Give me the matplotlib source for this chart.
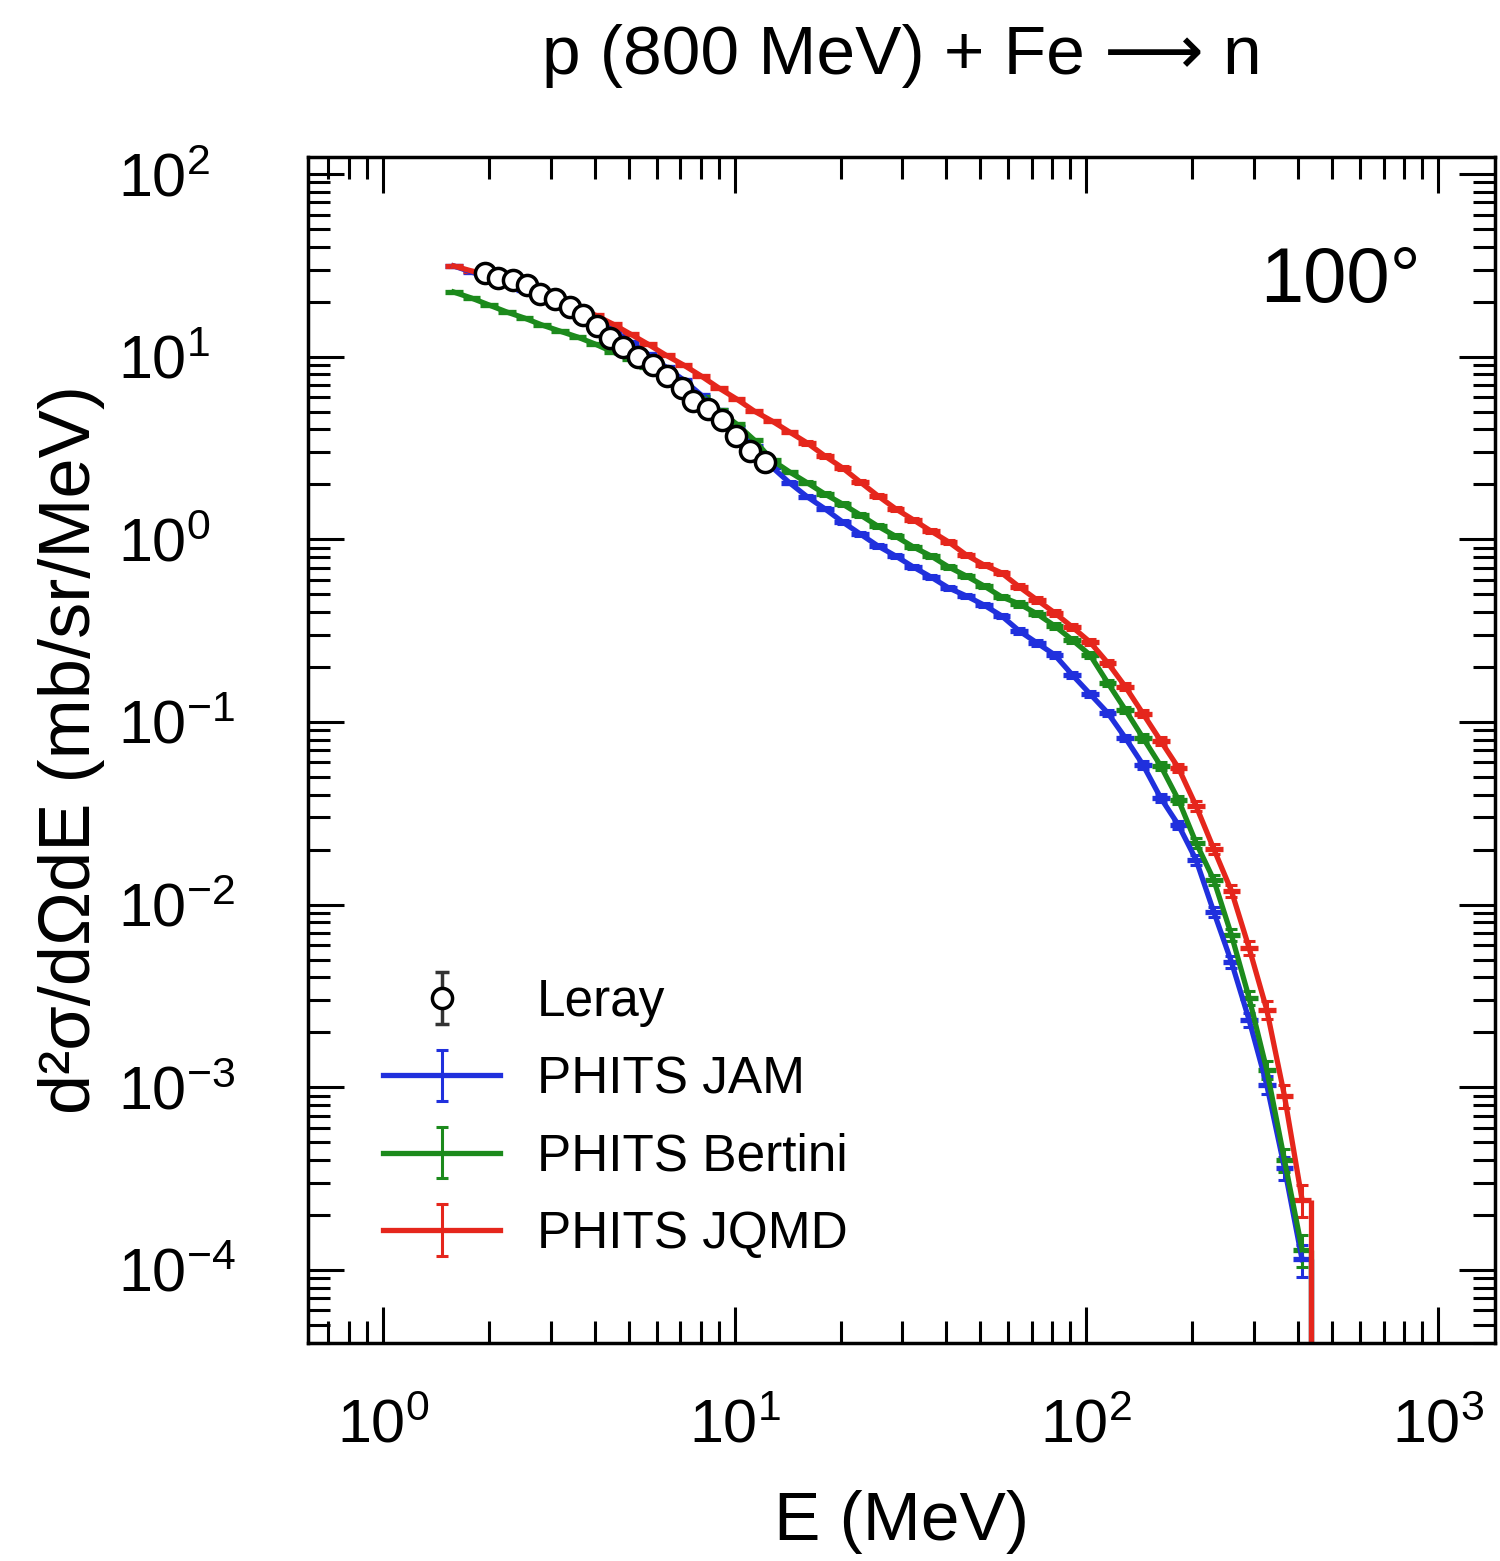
import numpy as np
import matplotlib
matplotlib.use("Agg")
import matplotlib.pyplot as plt
from matplotlib.ticker import LogLocator, NullFormatter

plt.rcParams['font.family'] = ['Liberation Sans', 'DejaVu Sans']
plt.rcParams['mathtext.fontset'] = 'custom'
plt.rcParams['mathtext.rm'] = 'Liberation Sans'
plt.rcParams['mathtext.it'] = 'Liberation Sans:italic'
plt.rcParams['mathtext.bf'] = 'Liberation Sans:bold'

# bin edges of the PHITS spectra (MeV)
edges = [1.500, 1.684, 1.891, 2.123, 2.384, 2.676, 3.004, 3.373, 3.787, 4.251,
         4.773, 5.358, 6.016, 6.753, 7.582, 8.511, 9.555, 10.73, 12.04, 13.52,
         15.18, 17.04, 19.13, 21.48, 24.11, 27.07, 30.39, 34.12, 38.30, 43.00,
         48.27, 54.19, 60.84, 68.30, 76.68, 86.08, 96.65, 108.5, 121.8, 136.8,
         153.5, 172.4, 193.5, 217.3, 243.9, 273.8, 307.4, 345.1, 387.4, 435.0]

# d2sigma/dOmega dE (mb/sr/MeV) per bin
jam = [31.4, 29.1, 26.97, 25.0, 23.2, 21.2, 19.4, 17.6, 15.7, 14.0,
       12.0, 10.3, 8.78, 7.46, 6.17, 5.11, 4.12, 3.24, 2.49, 2.04,
       1.71, 1.47, 1.245, 1.07, 0.920, 0.811, 0.706, 0.622, 0.542, 0.490,
       0.437, 0.381, 0.315, 0.271, 0.233, 0.181, 0.1425, 0.1122, 0.0818, 0.0582,
       0.0384, 0.0273, 0.01758, 0.00913, 0.00486, 0.00234, 0.001032, 0.000363, 0.000114]
bertini = [22.6, 20.96, 19.19, 17.57, 16.28, 14.91, 13.82, 12.82, 11.73, 10.61,
           9.71, 8.78, 7.74, 6.91, 6.02, 5.11, 4.28, 3.50, 2.72, 2.34,
           2.04, 1.77, 1.56, 1.36, 1.18, 1.04, 0.909, 0.811, 0.706, 0.630,
           0.556, 0.484, 0.443, 0.391, 0.336, 0.281, 0.233, 0.164, 0.1165, 0.0818,
           0.0575, 0.0375, 0.0218, 0.01367, 0.00683, 0.00309, 0.001247, 0.000401, 0.000129]
jqmd = [31.4, 29.5, 27.6, 25.96, 24.1, 22.3, 20.4, 18.7, 16.9, 15.1,
        13.3, 11.7, 10.2, 9.01, 7.84, 6.74, 5.87, 5.04, 4.45, 3.87,
        3.37, 2.86, 2.46, 2.06, 1.73, 1.47, 1.28, 1.11, 0.968, 0.821,
        0.724, 0.655, 0.549, 0.466, 0.396, 0.331, 0.274, 0.211, 0.156, 0.111,
        0.0788, 0.0561, 0.0347, 0.0202, 0.0119, 0.0058, 0.00266, 0.00090, 0.000242]
# relative statistical error of the Monte Carlo bins
rel_err = [0.010, 0.010, 0.010, 0.010, 0.011, 0.011, 0.011, 0.012, 0.012, 0.012,
           0.013, 0.013, 0.014, 0.014, 0.015, 0.015, 0.016, 0.017, 0.018, 0.018,
           0.019, 0.020, 0.021, 0.022, 0.023, 0.024, 0.025, 0.026, 0.027, 0.028,
           0.029, 0.030, 0.032, 0.033, 0.035, 0.036, 0.038, 0.040, 0.043, 0.046,
           0.050, 0.055, 0.060, 0.068, 0.078, 0.090, 0.11, 0.14, 0.20]

# Leray measurement
leray_e = [1.95, 2.13, 2.35, 2.56, 2.80, 3.08, 3.40, 3.71, 4.05, 4.42, 4.82,
           5.32, 5.87, 6.41, 7.07, 7.63, 8.41, 9.19, 10.1, 11.05, 12.2]
leray_y = [28.6, 27.0, 26.3, 24.8, 22.0, 20.8, 18.8, 16.9, 14.8, 12.6, 11.3,
           10.0, 9.0, 7.8, 6.7, 5.7, 5.2, 4.5, 3.7, 3.05, 2.66]
leray_err = [2.0, 1.9, 1.8, 1.7, 1.5, 1.5, 1.3, 1.2, 1.0, 0.9, 0.8,
             0.7, 0.63, 0.55, 0.47, 0.40, 0.37, 0.32, 0.26, 0.22, 0.19]

x_decades = [1, 10, 100, 1000]
y_decades = [1e-4, 1e-3, 1e-2, 1e-1, 1, 10, 100]

fig = plt.figure(figsize=(15, 15.61), dpi=100)
ax = fig.add_axes([0.2053, 0.1397, 0.7914, 0.7597])
ax.set_xscale('log')
ax.set_yscale('log')

edges = np.array(edges)
centers = np.sqrt(edges[:-1] * edges[1:])
xerr = [centers - edges[:-1], edges[1:] - centers]
rel = np.array(rel_err)

ymin, ymax = 3.98e-5, 124
lw = 3.8
series = [(jam, '#2030dd', 'PHITS JAM'),
          (bertini, '#1c8a1c', 'PHITS Bertini'),
          (jqmd, '#e5261c', 'PHITS JQMD')]
handles = []
for vals, col, name in series:
    vals = np.array(vals)
    # bin widths as horizontal bars, then the points joined by a line
    ax.errorbar(centers, vals, xerr=xerr, fmt='none', ecolor=col,
                elinewidth=lw, capsize=0, zorder=2)
    ax.vlines(edges[-1], ymin * 0.1, vals[-1], color=col, lw=lw, zorder=2)
    h = ax.errorbar(centers, vals, yerr=vals * rel, color=col, lw=lw,
                    elinewidth=2.2, capsize=4, capthick=2.2, label=name,
                    zorder=2)
    handles.append(h)

hl = ax.errorbar(leray_e, leray_y, yerr=leray_err, fmt='o', ms=14.5,
                 mfc='white', mec='black', mew=2.5, ecolor='#333333',
                 elinewidth=2.5, capsize=5, capthick=2.5, label='Leray', zorder=5)

ax.set_xlim(0.612, 1452)
ax.set_ylim(ymin, ymax)

ax.set_xticks(x_decades)
ax.set_yticks(y_decades)
ax.xaxis.set_minor_locator(LogLocator(base=10, subs=np.arange(2, 10), numticks=20))
ax.yaxis.set_minor_locator(LogLocator(base=10, subs=np.arange(2, 10), numticks=20))
ax.xaxis.set_minor_formatter(NullFormatter())
ax.yaxis.set_minor_formatter(NullFormatter())

ax.tick_params(which='both', direction='in', top=True, right=True)
ax.tick_params(which='major', length=26, width=2.2)
ax.tick_params(which='minor', length=16, width=2.2)
ax.tick_params(axis='x', which='major', labelsize=44, pad=40)
ax.tick_params(axis='y', which='major', labelsize=44, pad=137)
for lab in ax.get_yticklabels():
    lab.set_horizontalalignment('left')
for sp in ax.spines.values():
    sp.set_linewidth(2.5)

ax.set_xlabel('E (MeV)', fontsize=50)
ax.xaxis.set_label_coords(0.5, -0.124)
ax.set_ylabel('d²σ/dΩdE (mb/sr/MeV)', fontsize=52)
ax.yaxis.set_label_coords(-0.171, 0.5)
ax.set_title('p (800 MeV) + Fe ⟶ n', fontsize=50, pad=60)

ax.text(0.937, 0.926, '100°', transform=ax.transAxes, ha='right', va='top',
        fontsize=56)

ax.legend([hl] + handles, ['Leray', 'PHITS JAM', 'PHITS Bertini', 'PHITS JQMD'],
          loc='upper left', bbox_to_anchor=(0.0632, 0.3076), frameon=False,
          fontsize=37, handlelength=2.28, handletextpad=0.72, labelspacing=0.55,
          borderpad=0, borderaxespad=0)

fig.savefig('out.png', dpi=100)
